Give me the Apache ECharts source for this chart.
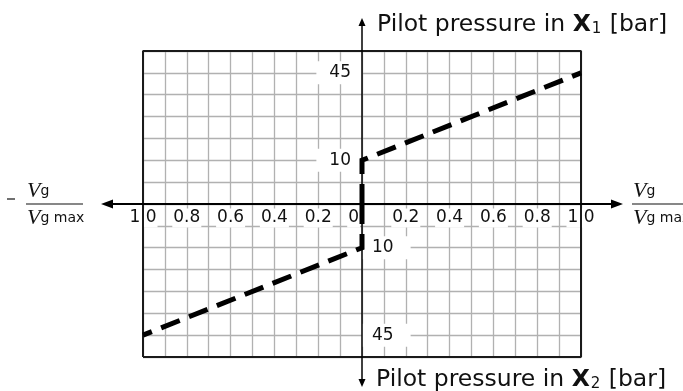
<!DOCTYPE html>
<html>
<head>
<meta charset="utf-8">
<script src="https://cdn.jsdelivr.net/npm/echarts@6/dist/echarts.min.js"></script>
<style>
  html, body { margin: 0; padding: 0; background: #fff; }
  #chart { width: 683px; height: 391px; }
</style>
</head>
<body>
<div id="chart"></div>
<script>
// Swivel angle Vg / Vg max versus pilot pressure for both control ports
const vgX1 = [0, 0, 1.0];          // displacement ratio, X1 side
const pressureX1 = [0, 10, 45];    // pilot pressure in X1 [bar]
const vgX2 = [0, 0, -1.0];         // displacement ratio, X2 side
const pressureX2 = [0, 10, 45];    // pilot pressure in X2 [bar]

// Horizontal tick labels (magnitude of Vg / Vg max)
const xTickValues = [-1.0, -0.8, -0.6, -0.4, -0.2, 0, 0.2, 0.4, 0.6, 0.8, 1.0];
const xTickLabels = ['1.0', '0.8', '0.6', '0.4', '0.2', '0', '0.2', '0.4', '0.6', '0.8', '1.0'];

// Pressure tick labels, repeated on the upper (X1) and lower (X2) half-axis
const pressureTickValues = [10, 45];
const pressureTickLabels = ['10', '45'];

// The pressure axis is schematic: pressures map piecewise onto grid rows
const pressureAnchors = [0, 10, 45];
const rowAnchors = [0, 2, 6];
const rowMin = -7, rowMax = 7;

function pressureToRow(p) {
  for (let i = 1; i < pressureAnchors.length; i++) {
    if (p <= pressureAnchors[i] || i === pressureAnchors.length - 1) {
      const p0 = pressureAnchors[i - 1], p1 = pressureAnchors[i];
      const r0 = rowAnchors[i - 1], r1 = rowAnchors[i];
      return r0 + (p - p0) * (r1 - r0) / (p1 - p0);
    }
  }
  return 0;
}

const x1Data = vgX1.map((v, i) => [v, pressureToRow(pressureX1[i])]);
const x2Data = vgX2.map((v, i) => [v, -pressureToRow(pressureX2[i])]);
const frameData = [[-1, rowMin], [1, rowMin], [1, rowMax], [-1, rowMax], [-1, rowMin]];

const chart = echarts.init(document.getElementById('chart'), null, { renderer: 'canvas' });

const gridLine = { show: true, lineStyle: { color: '#b1b1b1', width: 1.3 } };
const hiddenAxisParts = {
  axisLine: { show: false },
  axisTick: { show: false },
  axisLabel: { show: false },
  splitLine: gridLine
};

const dash = { color: '#000', width: 5, type: [20, 10], cap: 'butt', join: 'miter' };

chart.setOption({
  animation: false,
  grid: { left: 143, top: 51, width: 438, height: 306, show: false },
  xAxis: Object.assign({ type: 'value', min: -1, max: 1, interval: 0.1 }, hiddenAxisParts),
  yAxis: Object.assign({ type: 'value', min: rowMin, max: rowMax, interval: 1 }, hiddenAxisParts),
  series: [
    {
      type: 'line', name: 'frame', data: frameData, symbol: 'none', clip: false,
      silent: true, z: 2, lineStyle: { color: '#1a1a1a', width: 2 }
    },
    {
      type: 'line', name: 'X1', data: x1Data, symbol: 'none', clip: false,
      silent: true, z: 6, lineStyle: dash
    },
    {
      type: 'line', name: 'X2', data: x2Data, symbol: 'none', clip: false,
      silent: true, z: 6, lineStyle: dash
    }
  ]
});

// Axes with arrows, tick labels and titles, placed through the grid's own scales
const px = (x, y) => chart.convertToPixel({ gridIndex: 0 }, [x, y]);
const [cx, cy] = px(0, 0);
const [xl, yt] = px(-1, rowMax);
const [xr, yb] = px(1, rowMin);

const graphics = [];
const black = '#000';

// horizontal axis
const hLeft = xl - 42, hRight = xr + 42;
graphics.push({ type: 'line', z: 4, silent: true,
  shape: { x1: hLeft + 8, y1: cy, x2: hRight - 8, y2: cy },
  style: { stroke: black, lineWidth: 2.2 } });
graphics.push({ type: 'polygon', z: 4, silent: true,
  shape: { points: [[hLeft, cy], [hLeft + 12, cy - 4.5], [hLeft + 12, cy + 4.5]] },
  style: { fill: black } });
graphics.push({ type: 'polygon', z: 4, silent: true,
  shape: { points: [[hRight, cy], [hRight - 12, cy - 4.5], [hRight - 12, cy + 4.5]] },
  style: { fill: black } });

// vertical axis
const vTop = yt - 33, vBottom = yb + 30;
graphics.push({ type: 'line', z: 4, silent: true,
  shape: { x1: cx, y1: vTop + 5, x2: cx, y2: vBottom - 5 },
  style: { stroke: black, lineWidth: 1.5 } });
graphics.push({ type: 'polygon', z: 4, silent: true,
  shape: { points: [[cx, vTop], [cx - 3.5, vTop + 8], [cx + 3.5, vTop + 8]] },
  style: { fill: black } });
graphics.push({ type: 'polygon', z: 4, silent: true,
  shape: { points: [[cx, vBottom], [cx - 3.5, vBottom - 8], [cx + 3.5, vBottom - 8]] },
  style: { fill: black } });

// horizontal tick labels
const tickFont = '17px "DejaVu Sans"';
xTickValues.forEach((v, i) => {
  const [x] = px(v, 0);
  const isZero = v === 0;
  graphics.push({ type: 'text', z: 1, silent: true,
    style: {
      text: xTickLabels[i], x: isZero ? x - 2 : x, y: cy + 14,
      align: isZero ? 'right' : 'center', verticalAlign: 'middle',
      font: tickFont, fill: '#111', backgroundColor: '#fff', padding: [1, 1]
    } });
});

// pressure tick labels: X1 above the axis (left side), X2 below (right side)
pressureTickValues.forEach((p, i) => {
  const row = pressureToRow(p);
  const yUp = px(0, row)[1];
  const yDown = px(0, -row)[1];
  graphics.push({ type: 'text', z: 1, silent: true,
    style: {
      text: pressureTickLabels[i], x: cx, y: yUp, align: 'right', verticalAlign: 'middle',
      font: tickFont, fill: '#111', backgroundColor: '#fff', padding: [3, 11, 3, 13]
    } });
  graphics.push({ type: 'text', z: 1, silent: true,
    style: {
      text: pressureTickLabels[i], x: cx, y: yDown, align: 'left', verticalAlign: 'middle',
      font: tickFont, fill: '#111', backgroundColor: '#fff', padding: [3, 17, 3, 10]
    } });
});

// axis titles
const titleRich = {
  n: { fontFamily: 'DejaVu Sans', fontSize: 23.5, fill: '#111', verticalAlign: 'bottom' },
  b: { fontFamily: 'DejaVu Sans', fontWeight: 'bold', fontSize: 23.5, fill: '#111', verticalAlign: 'bottom' },
  s: { fontFamily: 'DejaVu Sans', fontSize: 15, fill: '#111', verticalAlign: 'bottom', padding: [0, 1, 0, 1] }
};
graphics.push({ type: 'text', z: 4, silent: true,
  style: { text: '{n|Pilot pressure in }{b|X}{s|1}{n| [bar]}', rich: titleRich,
    x: cx + 15, y: vTop + 7, verticalAlign: 'middle' } });
graphics.push({ type: 'text', z: 4, silent: true,
  style: { text: '{n|Pilot pressure in }{b|X}{s|2}{n| [bar]}', rich: titleRich,
    x: cx + 14, y: vBottom - 7, verticalAlign: 'middle' } });

// Vg / Vg max fractions at both ends of the horizontal axis
const fracRich = {
  v: { fontFamily: 'Liberation Serif', fontStyle: 'italic', fontSize: 22, fill: '#111' },
  s: { fontFamily: 'DejaVu Sans', fontSize: 14, fill: '#111' }
};
function fraction(xLeft, barRight, sign) {
  if (sign) {
    graphics.push({ type: 'line', z: 4, silent: true,
      shape: { x1: xLeft - 19, y1: cy - 5, x2: xLeft - 11, y2: cy - 5 },
      style: { stroke: '#111', lineWidth: 1.2 } });
  }
  graphics.push({ type: 'text', z: 4, silent: true,
    style: { text: '{v|V}{s|g}', rich: fracRich, x: xLeft + 1, y: cy - 13, verticalAlign: 'middle' } });
  graphics.push({ type: 'line', z: 4, silent: true,
    shape: { x1: xLeft, y1: cy, x2: barRight, y2: cy },
    style: { stroke: '#111', lineWidth: 1.2 } });
  graphics.push({ type: 'text', z: 4, silent: true,
    style: { text: '{v|V}{s|g max}', rich: fracRich, x: xLeft + 1, y: cy + 14, verticalAlign: 'middle' } });
}
fraction(hLeft - 75, hLeft - 18, true);
fraction(hRight + 9, 690, false);

chart.setOption({ graphic: graphics });
</script>
</body>
</html>
